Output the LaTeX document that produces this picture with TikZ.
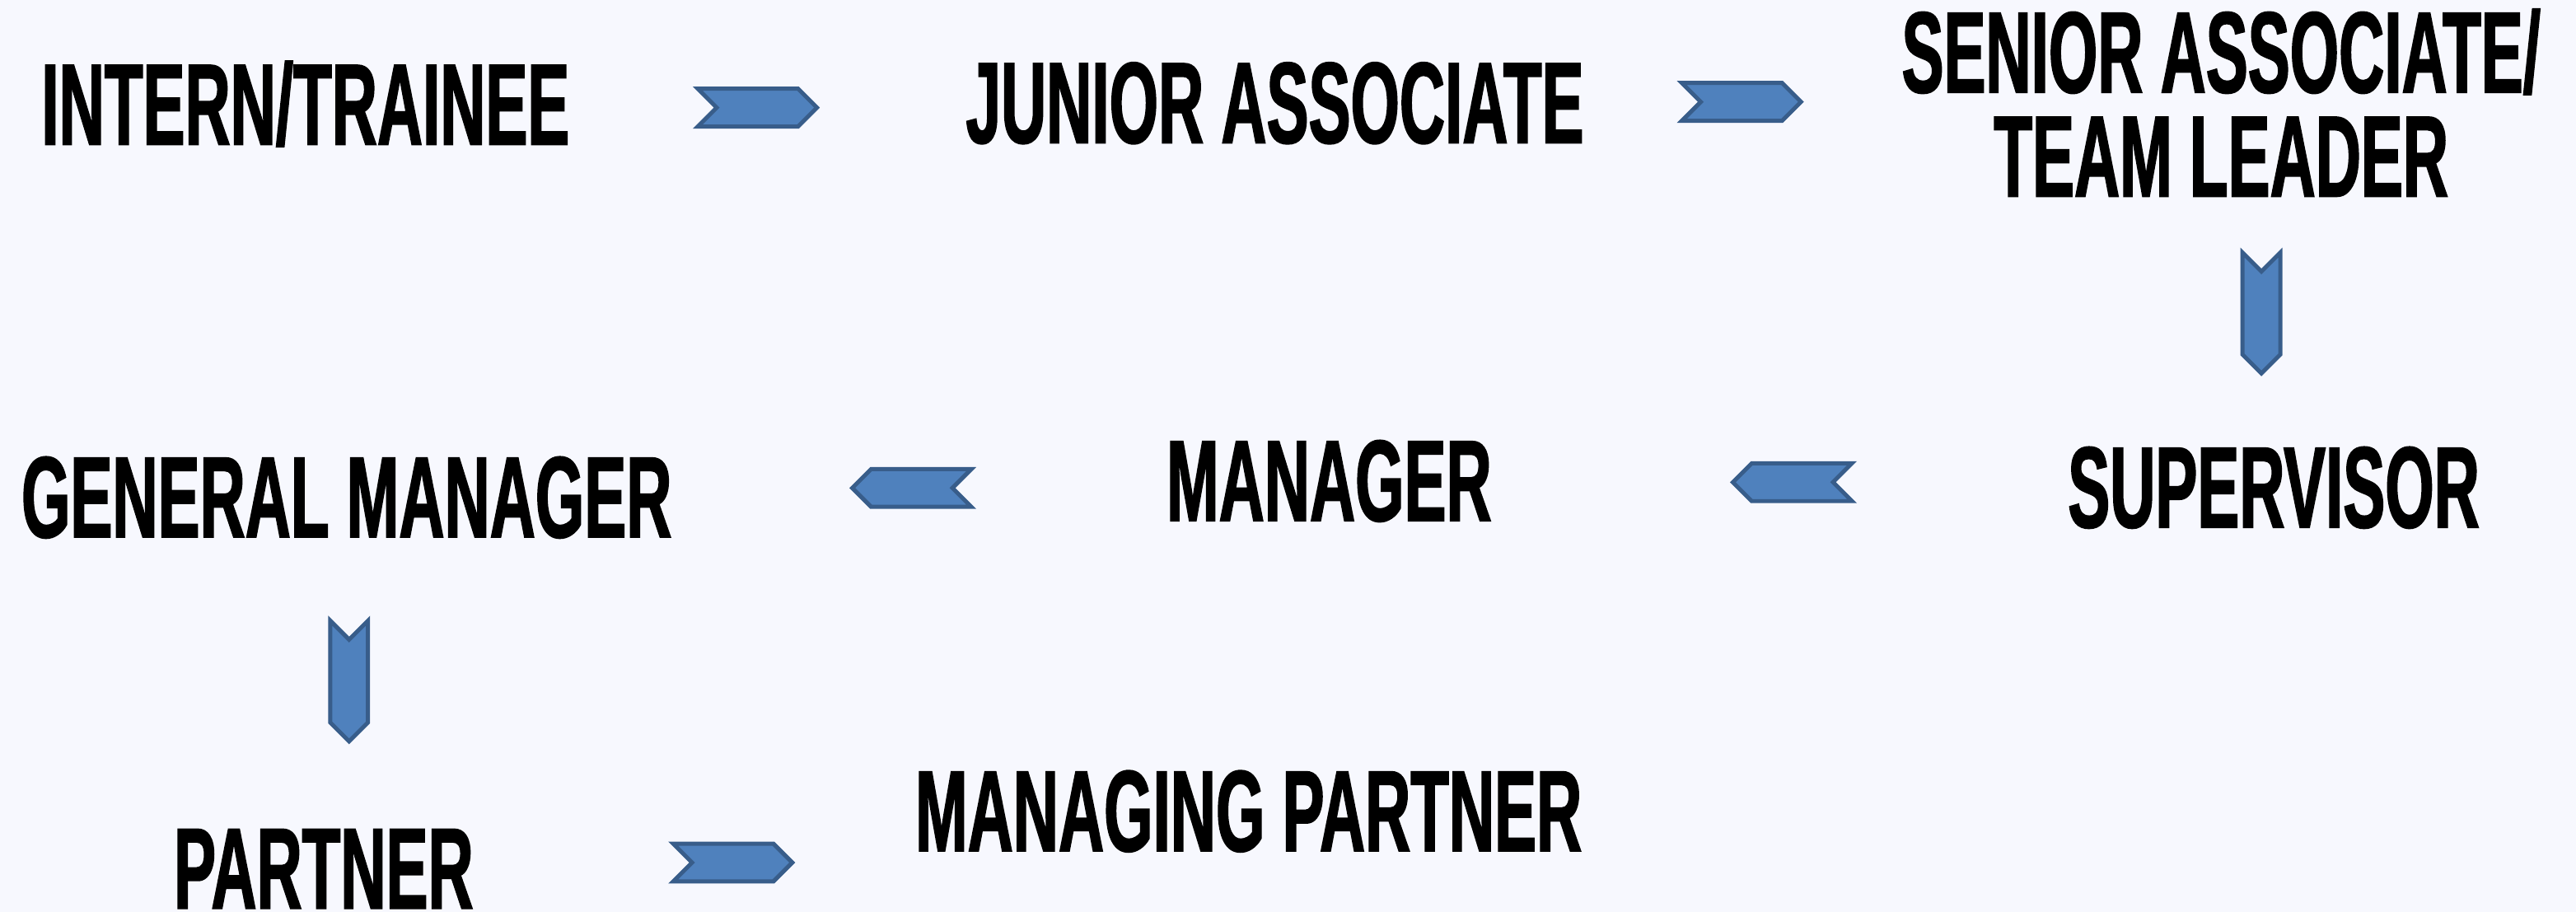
\documentclass[tikz,border=0pt]{standalone}
\usepackage{fontspec}
\newfontfamily\rolefont[FakeStretch=0.545, FakeBold=1.2]{Liberation Sans}
\usepackage{xcolor}
\usetikzlibrary{shapes.symbols}
\definecolor{pagebg}{RGB}{247,248,254}
\definecolor{chevfill}{RGB}{79,129,189}
\definecolor{chevline}{RGB}{56,93,138}

\begin{document}
\begin{tikzpicture}[x=0.2mm, y=-0.2mm,
 role/.style={inner sep=0pt, anchor=base, font=\rolefont\bfseries\fontsize{40}{36}\selectfont},
 chev/.style={signal, draw=chevline, fill=chevfill, line width=0.5mm, inner sep=0pt},
 chevright/.style={chev, signal from=west, signal to=east, minimum width=14.5mm, minimum height=4.6mm},
 chevleft/.style={chev, signal from=east, signal to=west, minimum width=14.5mm, minimum height=4.6mm},
 chevdown/.style={chev, signal from=north, signal to=south, minimum width=4.6mm, minimum height=10.1mm}]
 \path[use as bounding box, fill=pagebg] (0,0) rectangle (1568,555);
 %Nodes
	\node[role] (intern) at (186,88) {INTERN/TRAINEE};
	\node[role] (junior) at (776,87) {JUNIOR ASSOCIATE};
	\node[role, anchor=north, align=center] (senior) at (1352,5) {SENIOR ASSOCIATE/\\TEAM LEADER};
	\node[role] (supervisor) at (1384,321) {SUPERVISOR};
	\node[role] (manager) at (809,317) {MANAGER};
	\node[role] (general) at (211,327) {GENERAL MANAGER};
	\node[role] (partner) at (197,553) {PARTNER};
	\node[role] (managing) at (760,518) {MANAGING PARTNER};
	% Arrows
	\node[chevright] (step1) at (461,65.5) {};
	\node[chevright] (step2) at (1060,62) {};
	\node[chevdown] (step3) at (1376.5,190.5) {};
	\node[chevleft] (step4) at (1091,293.5) {};
	\node[chevleft] (step5) at (555,297) {};
	\node[chevdown] (step6) at (212.5,414.5) {};
	\node[chevright] (step7) at (446,525) {};
\end{tikzpicture}
\end{document}
